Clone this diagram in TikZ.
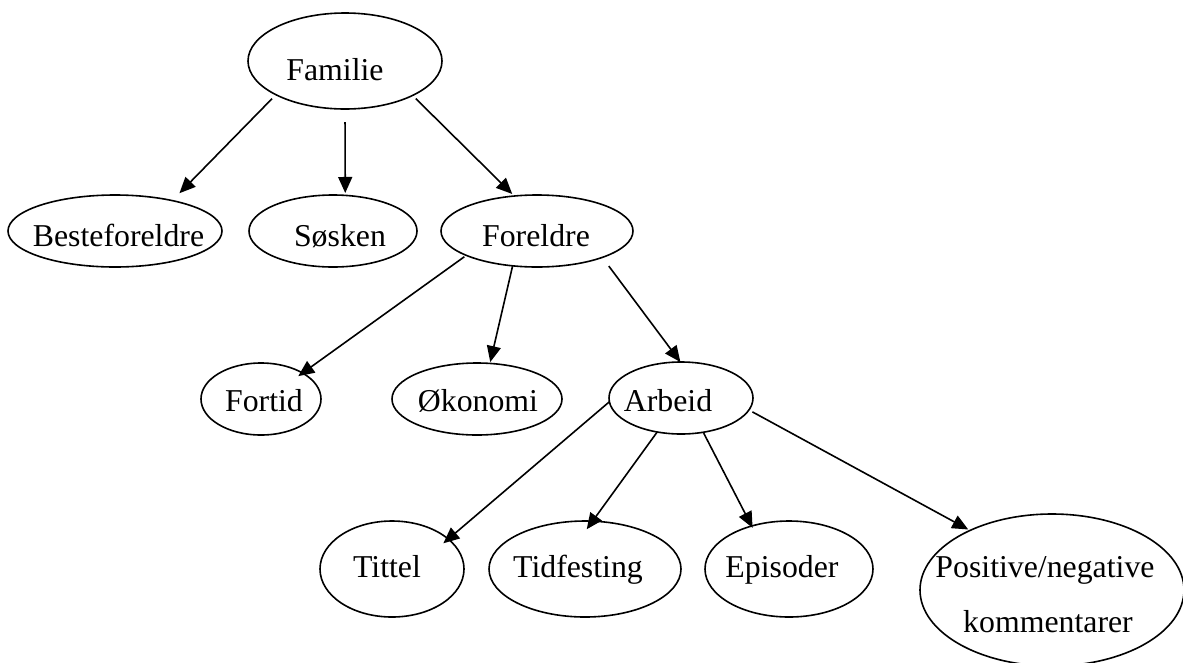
\documentclass[tikz,border=0pt]{standalone}
\usepackage{fontspec}
\setmainfont{Liberation Serif}
\usetikzlibrary{shapes.geometric,arrows.meta}
\begin{document}
\begin{tikzpicture}[x=1pt,y=-1pt,
  ell/.style={draw, ellipse, line width=1.6pt, inner sep=0pt, outer sep=0pt},
  lbl/.style={anchor=base, inner sep=0pt, font=\fontsize{31.8}{38}\selectfont},
  edge/.style={line width=1.6pt, -{Triangle[length=16pt,width=14pt]}}]
\useasboundingbox (0,0) rectangle (1183,662);
% ellipses
\node[ell, minimum width=194pt, minimum height=96pt]  (fam)  at (345,61)  {};
\node[ell, minimum width=214pt, minimum height=72pt]  (bes)  at (115,231) {};
\node[ell, minimum width=168pt, minimum height=72pt]  (sos)  at (333,231) {};
\node[ell, minimum width=192pt, minimum height=72pt]  (for)  at (537,231) {};
\node[ell, minimum width=120pt, minimum height=72pt]  (fort) at (261,399) {};
\node[ell, minimum width=170pt, minimum height=72pt]  (oko)  at (477,399) {};
\node[ell, minimum width=144pt, minimum height=72pt]  (arb)  at (681,398) {};
\node[ell, minimum width=144pt, minimum height=96pt]  (tit)  at (392,569) {};
\node[ell, minimum width=192pt, minimum height=96pt]  (tid)  at (585,569) {};
\node[ell, minimum width=168pt, minimum height=96pt]  (epi)  at (789,569) {};
\node[ell, minimum width=264pt, minimum height=152pt] (pos)  at (1052,590) {};
% labels
\node[lbl] (lfam)  at (335,80)   {Familie};
\node[lbl] (lbes)  at (118.5,246) {Besteforeldre};
\node[lbl] (lsos)  at (340,246)  {Søsken};
\node[lbl] (lfor)  at (536,246)  {Foreldre};
\node[lbl] (lfort) at (264,411)  {Fortid};
\node[lbl] (loko)  at (478,411)  {Økonomi};
\node[lbl] (larb)  at (668,411)  {Arbeid};
\node[lbl] (ltit)  at (387,577)  {Tittel};
\node[lbl] (ltid)  at (578,577)  {Tidfesting};
\node[lbl] (lepi)  at (782,577)  {Episoder};
\node[lbl] (lpos1) at (1045,577) {Positive/negative};
\node[lbl] (lpos2) at (1048,632) {kommentarer};
% connectors
\draw[edge, shorten <=5.5pt, shorten >=10.3pt] (fam.206.7) -- (bes.28.9);
\draw[edge, shorten <=13pt, shorten >=2.4pt] (fam.south) -- (sos.71.4);
\draw[edge, shorten <=4.5pt, shorten >=2.9pt] (fam.333.9) -- (for.123.3);
\draw[edge, shorten <=2.4pt, shorten >=-5.3pt] (for.199.4) -- (fort.32.3);
\draw[edge, shorten >=1.4pt] (for.235.3) -- (oko.70.4);
\draw[edge, shorten <=10.8pt] (for.338.1) -- (arb.91.6);
\draw[edge, shorten >=-6.5pt] (arb.183.2) -- (tit.28.4);
\draw[edge, shorten >=-10pt] (arb.235.6) -- (tid.81.8);
\draw[edge, shorten <=0.9pt, shorten >=-2pt] (arb.303.5) -- (epi.131.5);
\draw[edge, shorten <=4pt, shorten >=2pt] (arb.350.8) -- (pos.144.7);
\end{tikzpicture}
\end{document}
